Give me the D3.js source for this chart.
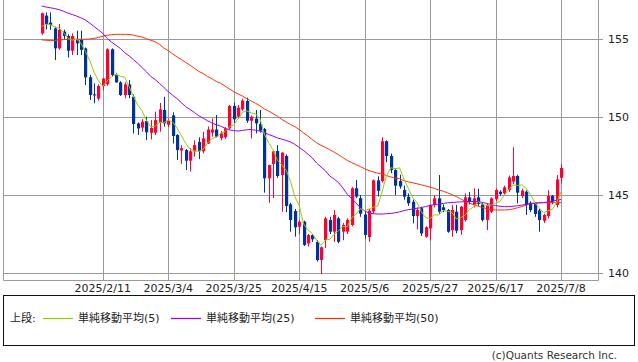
<!DOCTYPE html>
<html><head><meta charset="utf-8">
<script src="https://cdn.jsdelivr.net/npm/d3@7"></script>
<style>body{margin:0;background:#fff}svg{display:block}text{font-family:"DejaVu Sans","Noto Sans CJK JP",sans-serif}</style>
</head><body><svg id="c" width="638" height="362"></svg>
<script>
const startDate = "2025-01-22";
const opens = [155.36,156.50,156.05,155.68,154.40,155.47,155.19,154.25,154.94,154.94,154.40,152.55,151.45,151.18,151.99,152.10,154.34,152.69,152.22,151.41,152.09,151.30,149.59,149.32,149.74,148.99,148.99,149.63,150.45,149.50,150.10,148.85,147.85,147.88,147.20,147.80,148.40,147.80,148.30,149.00,149.20,148.65,148.70,149.27,150.71,150.02,150.49,151.03,149.76,149.90,149.55,149.23,146.07,146.99,147.82,146.28,147.50,144.40,143.97,142.97,143.29,141.90,142.43,142.00,140.83,142.12,143.40,142.65,143.50,142.65,142.65,143.08,145.43,144.80,143.75,142.30,143.95,145.94,145.90,148.45,147.50,146.60,145.90,145.32,144.89,144.57,143.65,144.15,142.33,142.86,144.36,144.79,144.21,144.04,142.75,143.93,142.75,143.40,144.85,144.36,144.85,144.40,143.40,143.93,144.73,145.21,145.11,145.32,145.86,146.22,144.94,145.21,144.50,144.47,144.00,143.35,143.65,144.94,144.36,146.10];
const highs = [156.69,156.71,156.71,155.80,155.96,155.60,155.30,155.36,155.53,155.53,154.45,152.70,152.16,152.10,152.50,154.40,154.40,152.80,152.30,152.22,152.37,151.45,149.65,149.87,150.02,149.80,150.34,150.90,151.30,149.90,150.30,148.90,148.20,147.95,148.00,148.50,148.70,149.05,149.40,149.90,150.13,149.10,149.35,150.77,150.92,150.77,151.17,151.24,150.10,150.45,150.45,149.30,146.95,147.84,148.20,147.75,147.60,144.50,144.10,143.40,143.35,142.50,142.50,142.10,141.70,143.60,143.60,144.04,143.60,143.20,143.50,145.50,145.96,145.00,143.90,144.10,146.00,146.20,148.70,148.50,147.66,146.70,146.30,145.60,145.10,144.70,144.20,144.25,143.00,144.40,145.00,146.28,144.40,144.10,144.36,144.36,144.30,145.10,145.20,145.43,145.40,144.50,144.45,144.85,145.40,145.30,145.60,146.25,148.06,146.30,145.40,145.30,144.60,144.55,144.10,143.80,145.30,145.00,146.28,146.99];
const lows = [155.26,155.62,155.58,153.65,154.30,155.00,153.82,153.97,153.97,153.97,152.05,151.09,150.88,151.05,151.70,152.00,152.60,152.20,151.35,151.20,151.20,148.95,148.85,149.06,148.52,148.57,148.84,149.06,149.38,149.35,148.30,147.24,147.00,146.60,146.50,147.45,147.30,147.67,148.27,148.74,148.70,148.50,148.60,149.20,149.60,149.90,150.40,149.62,148.63,148.95,149.00,145.15,144.50,144.80,146.10,143.93,143.90,142.65,142.33,142.50,141.73,141.70,142.00,140.73,139.94,141.60,142.50,142.00,141.90,142.10,142.50,143.00,144.80,143.60,142.20,142.00,143.80,144.90,145.80,147.10,146.40,145.00,145.40,144.70,144.30,143.18,142.80,142.37,142.25,142.07,144.20,143.80,143.90,142.58,142.33,142.55,142.45,143.30,144.40,144.20,144.30,143.30,142.75,143.85,144.60,144.95,145.00,145.20,145.70,144.47,144.80,143.72,143.90,143.60,142.65,143.20,143.50,144.40,144.20,145.75];
const closes = [156.65,155.96,155.90,154.40,155.58,155.19,154.25,155.19,154.72,154.30,152.54,151.41,151.38,151.99,152.46,154.34,152.69,152.22,151.41,152.09,151.41,149.55,149.27,149.70,149.02,149.30,149.80,150.49,149.59,149.75,148.78,147.88,148.00,147.20,147.80,148.20,147.80,148.63,149.20,149.20,148.74,148.95,149.27,150.71,149.85,150.60,151.05,149.76,150.02,149.59,149.12,146.07,146.92,147.80,146.22,147.71,144.30,143.40,142.93,143.29,141.80,142.43,142.16,140.83,141.65,143.50,142.65,143.72,142.00,143.08,143.40,145.43,144.90,143.80,142.44,144.00,145.94,145.27,148.45,147.50,146.60,145.60,145.55,144.89,144.47,143.65,144.04,142.54,142.93,144.36,144.79,143.93,144.04,142.65,144.04,142.71,144.25,144.85,144.57,144.79,144.43,143.40,144.36,144.79,145.32,145.06,145.49,146.13,146.22,145.15,145.28,144.36,144.04,143.78,143.40,143.72,144.94,144.57,146.00,146.73];
const ma5 = [155.80,155.95,155.92,155.75,155.70,155.41,155.06,154.92,154.99,154.73,154.20,153.63,152.87,152.32,151.96,152.32,152.57,152.74,152.62,152.55,151.96,151.34,150.75,150.40,149.79,149.37,149.42,149.66,149.64,149.79,149.68,149.30,148.80,148.32,147.93,147.82,147.80,147.93,148.33,148.61,148.71,148.94,149.07,149.37,149.50,149.88,150.30,150.39,150.26,150.20,149.91,148.91,148.34,147.90,147.23,146.94,146.59,145.89,144.91,144.33,143.14,142.77,142.52,142.10,141.77,142.11,142.16,142.47,142.70,142.99,142.97,143.53,143.76,144.12,143.99,144.11,144.22,144.29,145.22,146.23,146.75,146.68,146.74,146.03,145.42,144.83,144.52,143.92,143.53,143.50,143.73,143.71,144.01,143.95,143.89,143.47,143.54,143.70,144.08,144.23,144.58,144.41,144.31,144.35,144.46,144.59,145.00,145.36,145.64,145.61,145.65,145.43,145.01,144.52,144.17,143.86,143.98,144.08,144.53,145.19];
const ma25 = [157.12,157.05,157.00,156.95,156.88,156.78,156.66,156.57,156.47,156.35,156.22,156.02,155.80,155.58,155.36,155.04,154.80,154.60,154.40,154.12,153.92,153.68,153.44,153.17,152.90,152.60,152.40,152.15,151.90,151.62,151.40,151.18,150.92,150.66,150.48,150.28,150.08,149.92,149.76,149.62,149.50,149.42,149.28,149.17,149.13,149.10,149.14,149.18,149.20,149.15,149.10,149.00,148.88,148.78,148.66,148.58,148.50,148.40,148.25,148.05,147.85,147.62,147.38,147.05,146.80,146.55,146.22,146.02,145.80,145.45,145.05,144.78,144.50,144.18,143.98,143.84,143.80,143.78,143.78,143.80,143.82,143.86,143.92,144.00,144.06,144.10,144.15,144.20,144.26,144.33,144.38,144.42,144.46,144.50,144.52,144.54,144.56,144.57,144.58,144.58,144.57,144.52,144.46,144.38,144.32,144.28,144.25,144.26,144.28,144.31,144.35,144.40,144.45,144.48,144.50,144.51,144.55,144.60,144.66,144.72];
const ma50 = [154.94,154.92,154.90,154.91,154.93,154.96,154.98,154.98,154.98,154.98,154.98,155.00,155.04,155.10,155.18,155.24,155.28,155.30,155.30,155.30,155.29,155.25,155.18,155.12,155.02,154.92,154.82,154.66,154.42,154.25,154.05,153.85,153.68,153.50,153.32,153.12,152.92,152.78,152.60,152.45,152.28,152.16,151.98,151.80,151.62,151.48,151.34,151.18,151.02,150.88,150.72,150.52,150.38,150.22,150.05,149.85,149.68,149.52,149.38,149.20,148.98,148.78,148.55,148.35,148.18,148.05,147.90,147.75,147.58,147.40,147.22,147.08,146.95,146.82,146.68,146.56,146.48,146.40,146.35,146.25,146.15,146.10,146.05,145.92,145.84,145.78,145.72,145.65,145.58,145.50,145.42,145.32,145.24,145.14,145.02,144.90,144.75,144.60,144.48,144.38,144.28,144.20,144.12,144.06,144.04,144.04,144.04,144.06,144.10,144.18,144.26,144.34,144.45,144.48,144.50,144.51,144.51,144.51,144.51,144.51];
const yTicks = [140, 145, 150, 155];
const xTickLabels = ["2025/2/11","2025/3/4","2025/3/25","2025/4/15","2025/5/6","2025/5/27","2025/6/17","2025/7/8"];
const legendLabels = ["単純移動平均(5)","単純移動平均(25)","単純移動平均(50)"];
const legendColors = ["#99cc00","#9900ff","#ff3300"];

// trading-day category labels (weekdays)
const dates = [];
{
  let d = new Date(startDate + "T00:00:00Z");
  while (dates.length < closes.length) {
    const w = d.getUTCDay();
    if (w !== 0 && w !== 6) dates.push(`${d.getUTCFullYear()}/${d.getUTCMonth()+1}/${d.getUTCDate()}`);
    d = new Date(d.getTime() + 86400000);
  }
}
const data = closes.map((c, i) => ({i, o: opens[i], h: highs[i], l: lows[i], c}));

const svg = d3.select("#c");
const L = 3, R = 598, B = 280;
const x = d3.scaleLinear().domain([-8.87, 127.47]).range([L, R]);
const y = d3.scaleLinear().domain([140, 155]).range([273, 39]);
const grid = "#9a9a9a";

// grid
svg.append("g").selectAll("line").data(yTicks).join("line")
  .attr("x1", L).attr("x2", R).attr("y1", d => Math.round(y(d)) + 0.5).attr("y2", d => Math.round(y(d)) + 0.5)
  .attr("stroke", grid);
const tickIdx = xTickLabels.map(t => dates.indexOf(t));
svg.append("g").selectAll("line").data(tickIdx).join("line")
  .attr("x1", d => Math.round(x(d)) + 0.5).attr("x2", d => Math.round(x(d)) + 0.5)
  .attr("y1", 0).attr("y2", B).attr("stroke", grid);
// frame
svg.append("path").attr("d", `M${L+0.5},0V${B+0.5}H${R+0.5}V0`).attr("fill", "none").attr("stroke", grid);

// y axis on right
const ya = svg.append("g");
ya.selectAll("line").data(yTicks).join("line")
  .attr("x1", R).attr("x2", R + 5).attr("y1", d => Math.round(y(d)) + 0.5).attr("y2", d => Math.round(y(d)) + 0.5).attr("stroke", grid);
ya.selectAll("text").data(yTicks).join("text")
  .attr("x", 608).attr("y", d => y(d)).attr("dy", "0.36em").attr("font-size", 11).attr("fill", "#222").text(d => d);

// x labels
svg.append("g").selectAll("text").data(xTickLabels).join("text")
  .attr("x", (d, k) => x(tickIdx[k])).attr("y", 292).attr("text-anchor", "middle")
  .attr("font-size", 11).attr("fill", "#222").text(d => d);

// candles
const up = "#ff0033", dn = "#003399";
const cg = svg.append("g");
cg.selectAll("line").data(data).join("line")
  .attr("x1", d => Math.round(x(d.i)) + 0.5).attr("x2", d => Math.round(x(d.i)) + 0.5)
  .attr("y1", d => y(d.h)).attr("y2", d => y(d.l))
  .attr("stroke", d => d.c >= d.o ? up : dn);
cg.selectAll("rect").data(data).join("rect")
  .attr("x", d => Math.round(x(d.i)) - 1).attr("width", 3.2)
  .attr("y", d => y(Math.max(d.o, d.c)))
  .attr("height", d => Math.max(1, y(Math.min(d.o, d.c)) - y(Math.max(d.o, d.c))))
  .attr("fill", d => d.c >= d.o ? up : dn);

// moving averages
const line = d3.line().x((d, i) => x(i)).y(d => y(d));
[ma50, ma25, ma5].forEach((s, k) => {
  svg.append("path").datum(s).attr("d", line).attr("fill", "none")
    .attr("stroke", legendColors[2 - k]).attr("stroke-width", 1);
});

// legend
svg.append("rect").attr("x", 3.5).attr("y", 295.5).attr("width", 631).attr("height", 50)
  .attr("fill", "#fff").attr("stroke", "#111");
svg.append("text").attr("x", 10).attr("y", 322).attr("font-size", 11).attr("fill", "#222").text("上段:");
const lx = [43, 171, 315];
legendLabels.forEach((t, k) => {
  svg.append("line").attr("x1", lx[k]).attr("x2", lx[k] + 30).attr("y1", 318.5).attr("y2", 318.5)
    .attr("stroke", legendColors[k]).attr("stroke-width", 1.2);
  svg.append("text").attr("x", lx[k] + 35).attr("y", 322).attr("font-size", 11).attr("fill", "#222").text(t);
});
svg.append("text").attr("x", 617).attr("y", 358.5).attr("text-anchor", "end").attr("font-size", 10.5)
  .attr("fill", "#333").text("(c)Quants Research Inc.");
</script></body></html>
